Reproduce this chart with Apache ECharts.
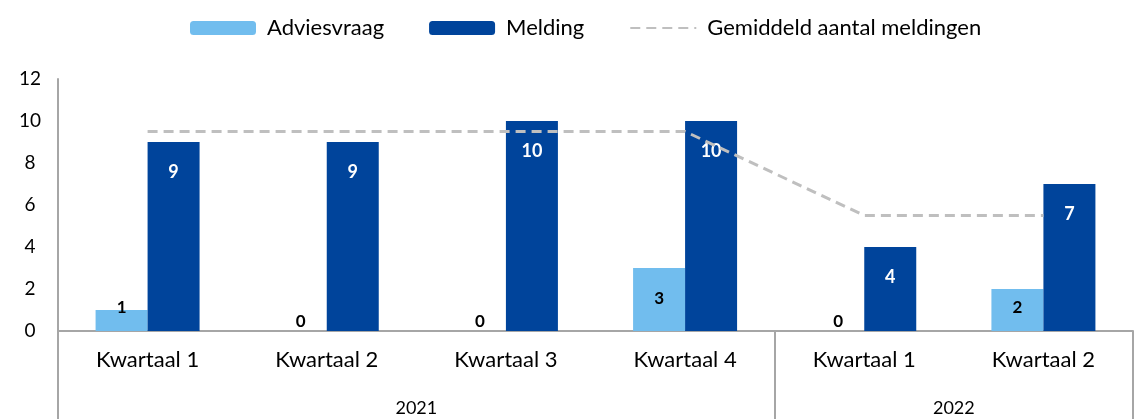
<!DOCTYPE html>
<html>
<head>
<meta charset="utf-8">
<script src="https://cdn.jsdelivr.net/npm/echarts@6/dist/echarts.min.js"></script>
<style>
  html, body { margin: 0; padding: 0; background: #fff; }
  #chart { width: 1136px; height: 419px; }
</style>
</head>
<body>
<div id="chart"></div>
<script>
const quarters = ['Kwartaal 1', 'Kwartaal 2', 'Kwartaal 3', 'Kwartaal 4', 'Kwartaal 1', 'Kwartaal 2'];
const yearSlots = ['', '', '2021', '', '', '2022', ''];
const adviesvraag = [1, 0, 0, 3, 0, 2];
const melding = [9, 9, 10, 10, 4, 7];
const gemiddeld = [9.5, 9.5, 9.5, 9.5, 5.5, 5.5];

const font = 'Lato';
const axisGray = '#A6A6A6';

// label placement a la Excel "inside end"
function adviesLabel(v) {
  if (v === 0) return { position: 'top', distance: 1 };
  if (v < 3) return { position: 'insideBottom', distance: 15 };
  return { position: 'insideTop', distance: 22 };
}

const chart = echarts.init(document.getElementById('chart'));
chart.setOption({
  animation: false,
  textStyle: { fontFamily: font },
  legend: {
    top: 12,
    left: 185,
    itemWidth: 66,
    itemHeight: 14,
    itemGap: 45,
    textStyle: { fontSize: 22, color: '#000', fontFamily: font, padding: [0, 0, 0, 6] },
    data: [
      'Adviesvraag',
      'Melding',
      { name: 'Gemiddeld aantal meldingen', itemStyle: { opacity: 0 } }
    ]
  },
  grid: { left: 58, right: 0, top: 79, bottom: 88 },
  xAxis: [
    {
      type: 'category',
      data: quarters,
      axisLine: { lineStyle: { color: axisGray, width: 2 } },
      axisTick: { show: false },
      axisLabel: { color: '#000', fontSize: 22, margin: 18, interval: 0 }
    },
    {
      type: 'category',
      data: yearSlots,
      position: 'bottom',
      boundaryGap: false,
      axisLine: { show: false },
      axisTick: {
        show: true,
        length: 88,
        interval: (i) => i === 0 || i === 4 || i === 6,
        lineStyle: { color: axisGray, width: 2 }
      },
      axisLabel: { color: '#000', fontSize: 18, margin: 68, interval: 0 }
    }
  ],
  yAxis: {
    type: 'value',
    min: 0,
    max: 12,
    interval: 2,
    splitLine: { show: false },
    axisTick: { show: false },
    axisLine: { show: true, lineStyle: { color: axisGray, width: 2 } },
    axisLabel: { color: '#000', fontSize: 19, align: 'center', margin: 28 }
  },
  series: [
    {
      name: 'Adviesvraag',
      type: 'bar',
      barWidth: 52,
      barGap: '0%',
      itemStyle: { color: '#71BDEE' },
      label: { show: true, color: '#000', fontSize: 17, fontWeight: 'bold' },
      data: adviesvraag.map(v => ({ value: v, label: adviesLabel(v) }))
    },
    {
      name: 'Melding',
      type: 'bar',
      barWidth: 52,
      itemStyle: { color: '#00449B' },
      label: { show: true, position: 'insideTop', distance: 21, color: '#fff', fontSize: 18, fontWeight: 'bold' },
      data: melding
    },
    {
      name: 'Gemiddeld aantal meldingen',
      type: 'line',
      symbol: 'none',
      z: 5,
      lineStyle: { color: '#BFBFBF', width: 3, type: [10, 6] },
      itemStyle: { color: '#BFBFBF' },
      data: gemiddeld
    }
  ]
});
</script>
</body>
</html>
